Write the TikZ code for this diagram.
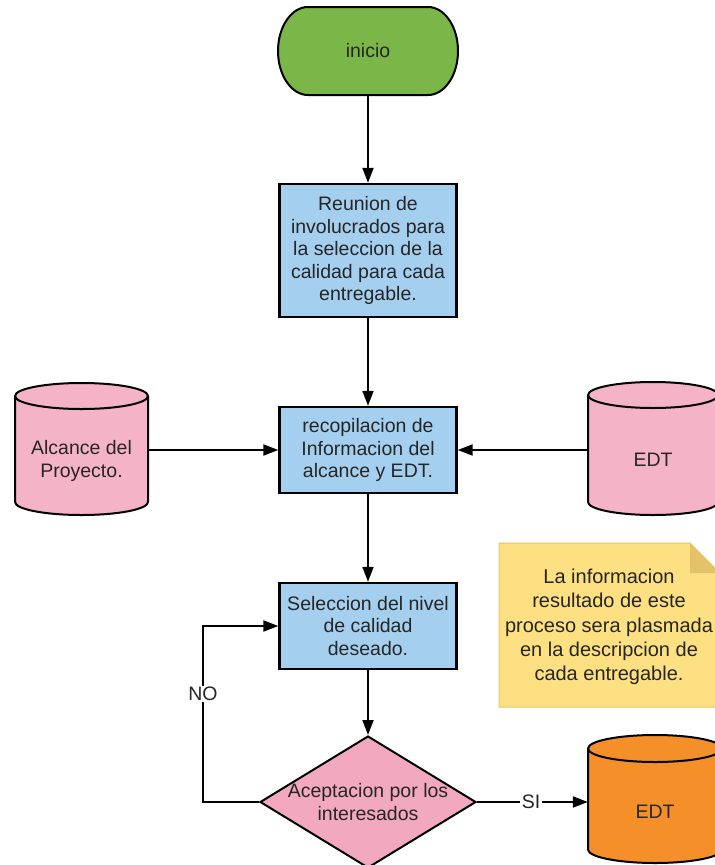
\documentclass[tikz,border=0pt]{standalone}
\usepackage{fontspec}
\setmainfont{Liberation Sans}
\usetikzlibrary{arrows.meta,shapes.geometric,calc}

\definecolor{startgreen}{HTML}{7AB648}
\definecolor{procblue}{HTML}{A5CFEE}
\definecolor{datapink}{HTML}{F4B3C6}
\definecolor{decpink}{HTML}{F2A9C0}
\definecolor{dataorange}{HTML}{F58F2A}
\definecolor{noteyellow}{HTML}{FCE081}
\definecolor{notefold}{HTML}{E2C36A}
\definecolor{noteedge}{HTML}{E6C663}
\definecolor{inkdark}{HTML}{262626}

\tikzset{
  txt/.style={font=\fontsize{19.5}{22.5}\selectfont, align=center, text=inkdark},
  holder/.style={txt, inner sep=0pt},
  procbox/.style={txt, draw=black, line width=2.4pt, fill=procblue,
                  minimum width=177pt, inner sep=0pt},
  decision/.style={diamond, draw=black, line width=2pt, fill=decpink,
                   minimum width=216pt, minimum height=132pt, inner sep=0pt},
  arr/.style={line width=2pt, -{Triangle[length=15pt,width=11pt]}},
  cylline/.style={draw=black, line width=2pt},
  tag/.style={txt, fill=white, inner sep=1.5pt},
}

% drum (database) outline: fill colour, left x, right x, top y, bottom y, ellipse half-height
\newcommand\drumshape[6]{%
  \pgfmathsetmacro\drumrx{(#3-#2)/2}%
  \pgfmathsetmacro\drumtop{#4-#6}%
  \pgfmathsetmacro\drumbot{#5+#6}%
  \filldraw[fill=#1, cylline] (#2,\drumtop) -- (#2,\drumbot)
    arc[start angle=180, end angle=360, x radius=\drumrx pt, y radius=#6pt]
    -- (#3,\drumtop)
    arc[start angle=0, end angle=180, x radius=\drumrx pt, y radius=#6pt] -- cycle;
  \draw[cylline] (#2,\drumtop)
    arc[start angle=180, end angle=360, x radius=\drumrx pt, y radius=#6pt];
}

\begin{document}
\begin{tikzpicture}[x=1pt,y=1pt]
\useasboundingbox (0,0) rectangle (715,-865);
\clip (0,0) rectangle (715,-865);

% start terminal
\filldraw[fill=startgreen, draw=black, line width=2pt]
  (308,-7) -- (428,-7) arc[start angle=90, end angle=-90, x radius=30pt, y radius=44pt]
  -- (308,-95) arc[start angle=270, end angle=90, x radius=30pt, y radius=44pt] -- cycle;
\node[holder, minimum width=180pt, minimum height=88pt] (start) at (368,-51) {inicio};

% process steps
\node[procbox, minimum height=133pt] (reunion) at (368,-250.5)
  {Reunion de\\involucrados para\\la seleccion de la\\calidad para cada\\entregable.};
\node[procbox, minimum height=86pt] (recop) at (368,-450)
  {recopilacion de\\Informacion del\\alcance y EDT.};
\node[procbox, minimum height=86pt] (selec) at (368,-626)
  {Seleccion del nivel\\de calidad\\deseado.};

% data stores
\drumshape{datapink}{15}{148}{-383}{-515}{13}
\node[holder, minimum width=133pt, minimum height=100pt] (alcance) at (81.5,-461)
  {Alcance del\\Proyecto.};
\drumshape{datapink}{588}{718}{-382}{-515}{13}
\node[holder, minimum width=130pt, minimum height=100pt] (edtin) at (653,-460) {EDT};
\drumshape{dataorange}{588}{722}{-735}{-863}{13.5}
\node[holder, minimum width=134pt, minimum height=100pt] (edtout) at (655,-812) {EDT};

% decision
\node[decision] (dec) at (368,-802) {};
\node[holder] (dectext) at (dec.center) {Aceptacion por los\\interesados};

% note with folded corner
\filldraw[fill=noteyellow, draw=noteedge, line width=1pt]
  (499,-543) -- (690,-543) -- (720,-573) -- (720,-707) -- (499,-707) -- cycle;
\fill[notefold] (690,-543) -- (690,-573) -- (720,-573) -- cycle;
\node[holder, font=\fontsize{20}{24.2}\selectfont] (note) at (609,-627)
  {La informacion\\resultado de este\\proceso sera plasmada\\en la descripcion de\\cada entregable.};

% connectors
\draw[arr] (start) -- (reunion);
\draw[arr] (reunion) -- (recop);
\draw[arr] (alcance.east |- recop.west) -- (recop.west);
\draw[arr] (edtin.west |- recop.east) -- (recop.east);
\draw[arr] (recop) -- (selec);
\draw[arr] (selec) -- (dec);
\coordinate (noturn) at (203,-802);
\draw[arr] (dec.west) -- (noturn) |- (selec.west);
\node[tag] (nolabel) at (203,-694) {NO};
\draw[arr] (dec.east) -- (edtout.west |- dec.east);
\node[tag] (silabel) at (531,-802) {SI};
\end{tikzpicture}
\end{document}
